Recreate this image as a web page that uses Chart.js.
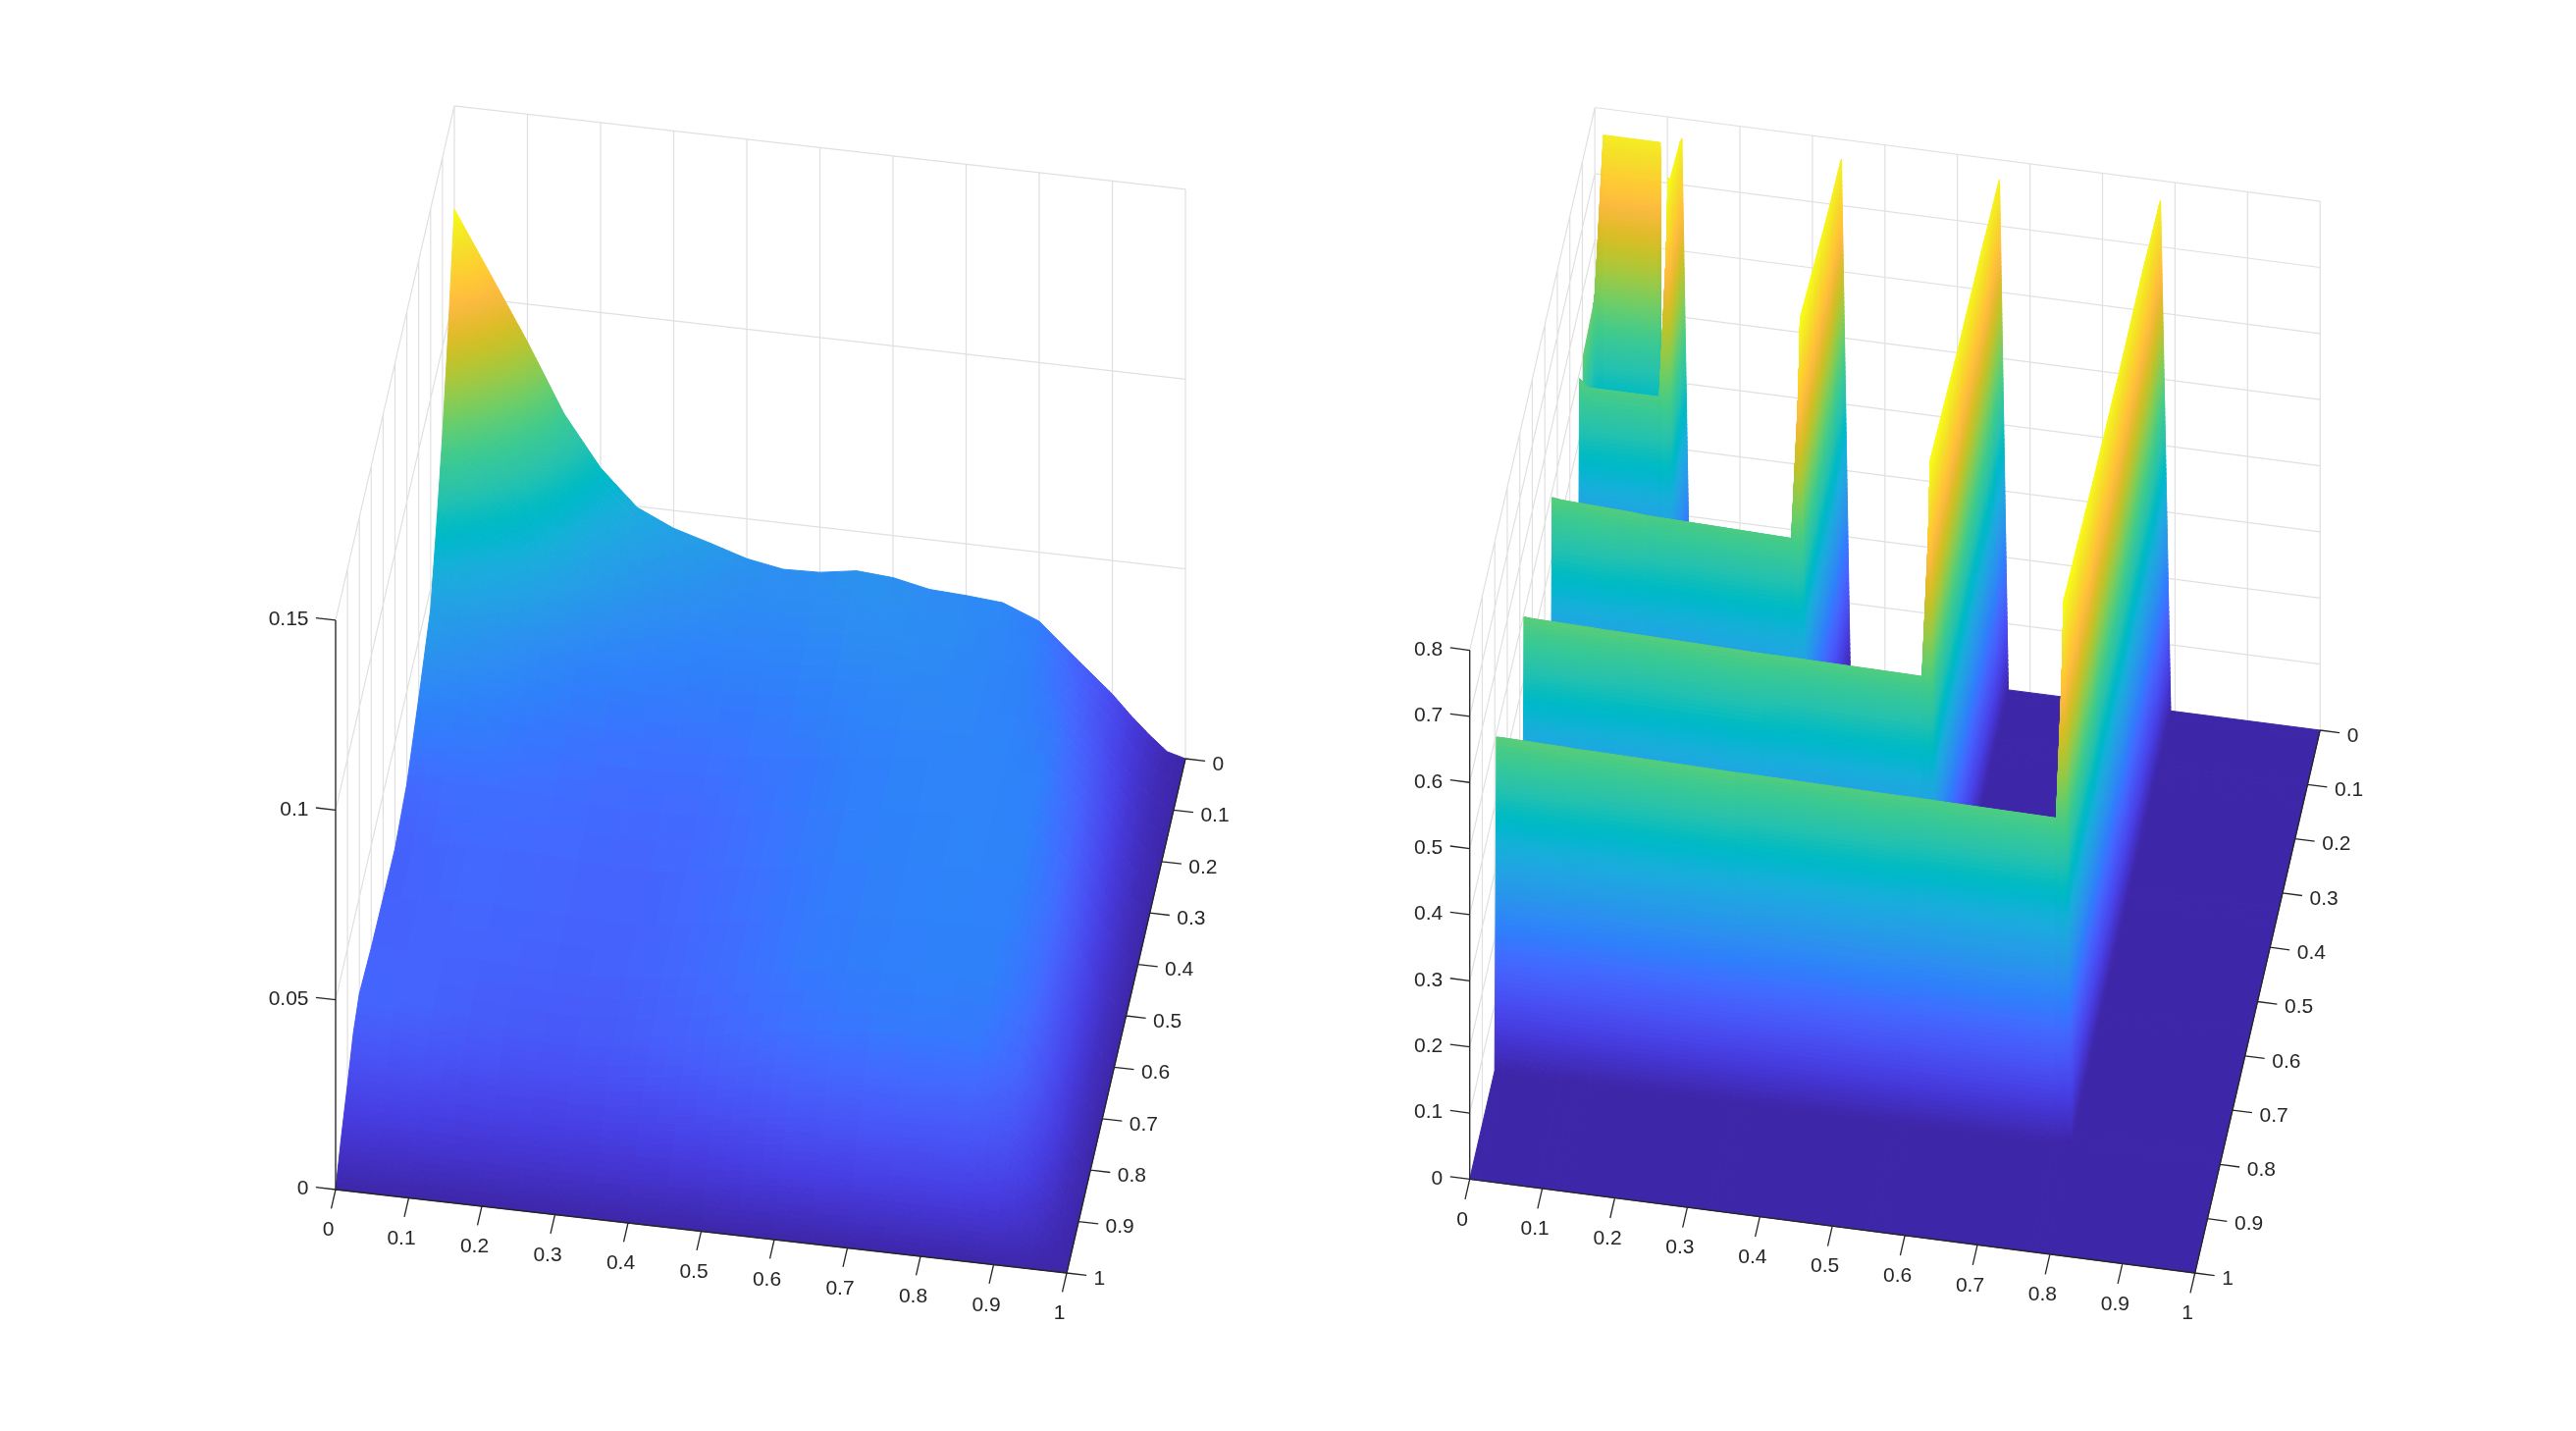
<!DOCTYPE html>
<html>
<head>
<meta charset="utf-8">
<title>Surfaces</title>
<script src="https://cdn.jsdelivr.net/npm/chart.js@4/dist/chart.umd.js"></script>
<style>
  html, body { margin: 0; padding: 0; background: #fff; }
  canvas { position: absolute; top: 0; }
</style>
</head>
<body>
<canvas id="leftPlot" width="1312" height="1458" style="left:0"></canvas>
<canvas id="rightPlot" width="1313" height="1458" style="left:1312px"></canvas>
<script>
// tick values and their labels
const xyTicks = [0, 0.1, 0.2, 0.3, 0.4, 0.5, 0.6, 0.7, 0.8, 0.9, 1];
const xyTickLabels = ['0', '0.1', '0.2', '0.3', '0.4', '0.5', '0.6', '0.7', '0.8', '0.9', '1'];
const zTicksLeft = [0, 0.05, 0.1, 0.15];
const zTickLabelsLeft = ['0', '0.05', '0.1', '0.15'];
const zTicksRight = [0, 0.1, 0.2, 0.3, 0.4, 0.5, 0.6, 0.7, 0.8];
const zTickLabelsRight = ['0', '0.1', '0.2', '0.3', '0.4', '0.5', '0.6', '0.7', '0.8'];

// left surface (rows go with yLeft, columns with xLeft)
const xLeft = [0, .05, .1, .15, .2, .25, .3, .35, .4, .45, .5, .55, .6, .65, .7, .75, .8, .85, .875, .9, .925, .95, .975, 1];
const yLeft = [0, .05, .1, .15, .2, .3, .4, .5, .6, .7, .8, .85, .9, .95, 1];
const zLeft = [
  [.1228, .1065, .0900, .0722, .0590, .0497, .0453, .0425, .0395, .0378, .0381, .0396, .0389, .0369, .0364, .0356, .0318, .0232, .0190, .0148, .0098, .0053, .0013, 0],
  [.0980, .0860, .0740, .0615, .0505, .0445, .0415, .0395, .0375, .0368, .0370, .0380, .0382, .0370, .0365, .0355, .0330, .0255, .0210, .0160, .0108, .0058, .0020, 0],
  [.0765, .0680, .0600, .0520, .0445, .0405, .0380, .0368, .0358, .0355, .0358, .0368, .0375, .0368, .0362, .0350, .0332, .0270, .0222, .0170, .0115, .0060, .0022, 0],
  [.0595, .0530, .0490, .0435, .0385, .0362, .0348, .0340, .0336, .0337, .0342, .0352, .0362, .0360, .0357, .0347, .0335, .0290, .0242, .0190, .0130, .0070, .0026, 0],
  [.0445, .0420, .0395, .0365, .0340, .0330, .0322, .0318, .0315, .0318, .0325, .0335, .0345, .0350, .0352, .0346, .0335, .0305, .0258, .0205, .0142, .0078, .0030, 0],
  [.0345, .0330, .0320, .0305, .0295, .0285, .0280, .0280, .0282, .0290, .0300, .0312, .0325, .0334, .0340, .0342, .0340, .0325, .0282, .0235, .0165, .0090, .0036, 0],
  [.0255, .0270, .0275, .0272, .0268, .0260, .0255, .0255, .0260, .0274, .0290, .0305, .0320, .0330, .0338, .0342, .0340, .0335, .0298, .0255, .0182, .0105, .0042, 0],
  [.0220, .0240, .0255, .0255, .0250, .0245, .0240, .0240, .0250, .0265, .0282, .0298, .0315, .0325, .0333, .0338, .0340, .0335, .0305, .0270, .0195, .0115, .0046, 0],
  [.0225, .0235, .0245, .0245, .0240, .0235, .0232, .0235, .0246, .0261, .0278, .0294, .0310, .0320, .0328, .0333, .0335, .0330, .0305, .0275, .0200, .0120, .0048, 0],
  [.0230, .0235, .0235, .0232, .0228, .0224, .0222, .0226, .0240, .0255, .0272, .0288, .0303, .0314, .0322, .0327, .0330, .0320, .0300, .0275, .0200, .0120, .0048, 0],
  [.0245, .0238, .0228, .0215, .0205, .0198, .0198, .0205, .0218, .0232, .0248, .0263, .0278, .0289, .0297, .0302, .0305, .0295, .0272, .0245, .0180, .0110, .0044, 0],
  [.0210, .0203, .0193, .0182, .0172, .0166, .0166, .0172, .0182, .0194, .0207, .0220, .0234, .0242, .0248, .0253, .0255, .0245, .0226, .0205, .0152, .0095, .0038, 0],
  [.0140, .0135, .0130, .0124, .0119, .0116, .0116, .0120, .0128, .0137, .0147, .0158, .0170, .0177, .0182, .0187, .0190, .0185, .0172, .0155, .0118, .0075, .0030, 0],
  [.0075, .0072, .0070, .0067, .0065, .0064, .0064, .0066, .0069, .0074, .0079, .0085, .0092, .0096, .0098, .0100, .0102, .0100, .0094, .0085, .0067, .0045, .0018, 0],
  [0, 0, 0, 0, 0, 0, 0, 0, 0, 0, 0, 0, 0, 0, 0, 0, 0, 0, 0, 0, 0, 0, 0, 0]
];

// right surface: sharp L shaped walls, so the grid is packed round the crests
const xRight = [0, .012, .09, .093, .11, .12, .132, .33, .34, .352, .549, .558, .57, .772, .78, .794, 1];
const yRight = [0, .012, .09, .1, .109, .122, .136, .328, .341, .355, .553, .566, .58, .773, .786, .8, 1];
const zRight = [
  [.51, .76, .76, 0, 0, .77, 0, 0, .77, 0, 0, .77, 0, 0, .77, 0, 0],
  [.51, 0, 0, 0, 0, .775, 0, 0, .772, 0, 0, .772, 0, 0, .772, 0, 0],
  [.50, 0, 0, 0, 0, .785, 0, 0, .775, 0, 0, .775, 0, 0, .775, 0, 0],
  [0, 0, 0, 0, 0, .79, 0, 0, .776, 0, 0, .776, 0, 0, .776, 0, 0],
  [0, 0, 0, 0, 0, .80, 0, 0, .777, 0, 0, .777, 0, 0, .777, 0, 0],
  [.49, .478, .478, .478, .478, .70, 0, 0, .778, 0, 0, .778, 0, 0, .778, 0, 0],
  [0, 0, 0, 0, 0, 0, 0, 0, .779, 0, 0, .779, 0, 0, .779, 0, 0],
  [0, 0, 0, 0, 0, 0, 0, 0, .80, 0, 0, .785, 0, 0, .78, 0, 0],
  [.49, .488, .484, .484, .483, .482, .481, .475, .70, 0, 0, .785, 0, 0, .78, 0, 0],
  [0, 0, 0, 0, 0, 0, 0, 0, 0, 0, 0, .786, 0, 0, .781, 0, 0],
  [0, 0, 0, 0, 0, 0, 0, 0, 0, 0, 0, .80, 0, 0, .787, 0, 0],
  [.494, .493, .491, .491, .49, .49, .49, .485, .485, .485, .482, .70, 0, 0, .788, 0, 0],
  [0, 0, 0, 0, 0, 0, 0, 0, 0, 0, 0, 0, 0, 0, .789, 0, 0],
  [0, 0, 0, 0, 0, 0, 0, 0, 0, 0, 0, 0, 0, 0, .80, 0, 0],
  [.493, .493, .491, .491, .49, .49, .49, .486, .486, .486, .483, .483, .483, .48, .70, 0, 0],
  [0, 0, 0, 0, 0, 0, 0, 0, 0, 0, 0, 0, 0, 0, 0, 0, 0],
  [0, 0, 0, 0, 0, 0, 0, 0, 0, 0, 0, 0, 0, 0, 0, 0, 0]
];

// parula
const parula = [
  [.2422, .1504, .6603], [.2504, .1650, .7076], [.2578, .1818, .7511], [.2647, .1978, .7952],
  [.2706, .2147, .8364], [.2751, .2342, .8710], [.2783, .2559, .8991], [.2803, .2782, .9221],
  [.2813, .3006, .9414], [.2810, .3228, .9579], [.2795, .3447, .9717], [.2760, .3667, .9829],
  [.2699, .3892, .9906], [.2602, .4123, .9952], [.2440, .4358, .9988], [.2206, .4603, .9973],
  [.1963, .4847, .9892], [.1834, .5074, .9798], [.1786, .5289, .9682], [.1764, .5499, .9520],
  [.1687, .5703, .9359], [.1540, .5902, .9218], [.1460, .6091, .9079], [.1380, .6276, .8973],
  [.1248, .6459, .8883], [.1113, .6635, .8763], [.0952, .6798, .8598], [.0689, .6948, .8394],
  [.0297, .7082, .8163], [.0036, .7203, .7917], [.0067, .7312, .7660], [.0433, .7411, .7394],
  [.0964, .7500, .7120], [.1408, .7584, .6842], [.1717, .7670, .6554], [.1938, .7758, .6251],
  [.2161, .7843, .5923], [.2470, .7918, .5567], [.2906, .7973, .5188], [.3406, .8008, .4789],
  [.3909, .8029, .4354], [.4456, .8024, .3909], [.5044, .7993, .3480], [.5616, .7942, .3045],
  [.6174, .7876, .2612], [.6720, .7793, .2227], [.7242, .7698, .1910], [.7738, .7598, .1646],
  [.8203, .7498, .1535], [.8634, .7406, .1596], [.9035, .7330, .1774], [.9393, .7288, .2100],
  [.9728, .7298, .2394], [.9956, .7434, .2371], [.9970, .7659, .2199], [.9952, .7893, .2028],
  [.9892, .8136, .1885], [.9786, .8386, .1766], [.9676, .8639, .1643], [.9610, .8890, .1537],
  [.9597, .9135, .1423], [.9628, .9373, .1265], [.9691, .9606, .1064], [.9769, .9839, .0805]
];

// orthographic views of the two boxes: where a unit of x, (1 - y) and z lands
const leftView = { origin: [342, 1212], ex: [745, 85], ew: [121, -524], ez: [0, -3867], zTop: 0.15, zMax: 0.1228 };
const rightView = { origin: [1497.7, 1201.4], ex: [739, 95.6], ew: [127.5, -553], ez: [0, -673.6], zTop: 0.8, zMax: 0.79 };

function project(view, x, y, z) {
  const w = 1 - y;
  return {
    x: view.origin[0] + view.ex[0] * x + view.ew[0] * w + view.ez[0] * z,
    y: view.origin[1] + view.ex[1] * x + view.ew[1] * w + view.ez[1] * z
  };
}

function colorAt(t) {
  const p = Math.max(0, Math.min(1, t)) * (parula.length - 1);
  const i = Math.min(Math.floor(p), parula.length - 2);
  const f = p - i;
  const c = [0, 1, 2].map(k => Math.round(255 * (parula[i][k] + (parula[i + 1][k] - parula[i][k]) * f)));
  return 'rgb(' + c.join(',') + ')';
}

// line segments with a NaN break between them
function segments(list) {
  const pts = [];
  list.forEach(s => { pts.push(s[0], s[1], { x: NaN, y: NaN }); });
  return pts;
}

function gridLines(view, zTicks) {
  const list = [];
  xyTicks.forEach(x => list.push([project(view, x, 0, 0), project(view, x, 0, view.zTop)]));
  xyTicks.forEach(y => list.push([project(view, 0, y, 0), project(view, 0, y, view.zTop)]));
  zTicks.forEach(z => {
    list.push([project(view, 0, 0, z), project(view, 1, 0, z)]);
    list.push([project(view, 0, 0, z), project(view, 0, 1, z)]);
  });
  return segments(list);
}

function axisLines(view, zTicks) {
  const list = [
    [project(view, 0, 1, 0), project(view, 1, 1, 0)],
    [project(view, 1, 1, 0), project(view, 1, 0, 0)],
    [project(view, 0, 1, 0), project(view, 0, 1, view.zTop)]
  ];
  xyTicks.forEach(t => {
    list.push([project(view, t, 1, 0), project(view, t, 1.037, 0)]);
    list.push([project(view, 1, t, 0), project(view, 1.027, t, 0)]);
  });
  zTicks.forEach(z => list.push([project(view, 0, 1, z), project(view, -0.027, 1, z)]));
  return segments(list);
}

function labelSet(points, texts, offset, align) {
  return {
    label: 'ticks', data: points, texts: texts, labelOffset: offset, labelAlign: align,
    pointRadius: 0, showLine: false, order: 0
  };
}

function vertices(view, xs, ys, zs) {
  const pts = [];
  ys.forEach((y, i) => xs.forEach((x, j) => pts.push(project(view, x, y, zs[i][j]))));
  return pts;
}

// paints the mesh back to front, shading each grid cell by height like "shading interp"
const surfacePlugin = {
  id: 'surface',
  beforeDatasetDraw(chart, args) {
    const ds = chart.data.datasets[args.index];
    if (!ds.grid) return;
    const ctx = chart.ctx;
    const els = args.meta.data;
    const nx = ds.grid.xs.length;
    const zs = ds.grid.zs;
    const zMax = ds.grid.zMax;
    const step = zMax / 120;
    ctx.save();
    ctx.lineWidth = 1;
    ctx.lineJoin = 'round';
    for (let i = 0; i < ds.grid.ys.length - 1; i++) {
      for (let j = 0; j < nx - 1; j++) {
        const a = els[i * nx + j], b = els[i * nx + j + 1];
        const c = els[(i + 1) * nx + j], d = els[(i + 1) * nx + j + 1];
        const za = zs[i][j], zb = zs[i][j + 1], zc = zs[i + 1][j], zd = zs[i + 1][j + 1];
        const nu = Math.max(1, Math.ceil(Math.max(Math.abs(zb - za), Math.abs(zd - zc)) / step));
        const nv = Math.max(1, Math.ceil(Math.max(Math.abs(zc - za), Math.abs(zd - zb)) / step));
        const at = (p, q, k) => {
          const top = a[k] + (b[k] - a[k]) * p;
          const bot = c[k] + (d[k] - c[k]) * p;
          return top + (bot - top) * q;
        };
        for (let v = 0; v < nv; v++) {
          for (let u = 0; u < nu; u++) {
            const p0 = u / nu, p1 = (u + 1) / nu, q0 = v / nv, q1 = (v + 1) / nv;
            const pm = (p0 + p1) / 2, qm = (q0 + q1) / 2;
            const z = (za * (1 - pm) + zb * pm) * (1 - qm) + (zc * (1 - pm) + zd * pm) * qm;
            const col = colorAt(z / zMax);
            ctx.fillStyle = col;
            ctx.strokeStyle = col;
            ctx.beginPath();
            ctx.moveTo(at(p0, q0, 'x'), at(p0, q0, 'y'));
            ctx.lineTo(at(p1, q0, 'x'), at(p1, q0, 'y'));
            ctx.lineTo(at(p1, q1, 'x'), at(p1, q1, 'y'));
            ctx.lineTo(at(p0, q1, 'x'), at(p0, q1, 'y'));
            ctx.closePath();
            ctx.fill();
            ctx.stroke();
          }
        }
      }
    }
    ctx.restore();
    return false;
  }
};

// the box axes are oblique, so tick labels are written at their projected points
const tickLabelPlugin = {
  id: 'tickLabels',
  afterDatasetsDraw(chart) {
    const ctx = chart.ctx;
    ctx.save();
    ctx.font = '21px "Liberation Sans"';
    ctx.fillStyle = '#262626';
    ctx.textBaseline = 'middle';
    chart.data.datasets.forEach((ds, i) => {
      if (!ds.texts) return;
      ctx.textAlign = ds.labelAlign;
      chart.getDatasetMeta(i).data.forEach((el, k) => {
        ctx.fillText(ds.texts[k], el.x + ds.labelOffset[0], el.y + ds.labelOffset[1]);
      });
    });
    ctx.restore();
  }
};

function drawPanel(id, view, xs, ys, zs, zTicks, zLabels, xMin, xMax) {
  new Chart(document.getElementById(id), {
    type: 'scatter',
    data: {
      datasets: [
        { label: 'grid', data: gridLines(view, zTicks), showLine: true, pointRadius: 0, borderColor: '#e0e0e0', borderWidth: 1.2, spanGaps: false, order: 3 },
        { label: 'surface', data: vertices(view, xs, ys, zs), grid: { xs: xs, ys: ys, zs: zs, zMax: view.zMax }, pointRadius: 0, order: 2 },
        { label: 'axes', data: axisLines(view, zTicks), showLine: true, pointRadius: 0, borderColor: '#262626', borderWidth: 1.3, spanGaps: false, order: 1 },
        labelSet(xyTicks.map(t => project(view, t, 1, 0)), xyTickLabels, [-7.5, 41.5], 'center'),
        labelSet(xyTicks.map(t => project(view, 1, t, 0)), xyTickLabels, [27.5, 6], 'left'),
        labelSet(zTicks.map(z => project(view, 0, 1, z)), zLabels, [-27.5, -0.5], 'right')
      ]
    },
    options: {
      responsive: false,
      animation: false,
      events: [],
      layout: { padding: 0 },
      plugins: { legend: { display: false }, tooltip: { enabled: false } },
      scales: {
        x: { type: 'linear', display: false, min: xMin, max: xMax },
        y: { type: 'linear', display: false, min: 0, max: 1458, reverse: true }
      }
    },
    plugins: [surfacePlugin, tickLabelPlugin]
  });
}

drawPanel('leftPlot', leftView, xLeft, yLeft, zLeft, zTicksLeft, zTickLabelsLeft, 0, 1312);
drawPanel('rightPlot', rightView, xRight, yRight, zRight, zTicksRight, zTickLabelsRight, 1312, 2625);
</script>
</body>
</html>
